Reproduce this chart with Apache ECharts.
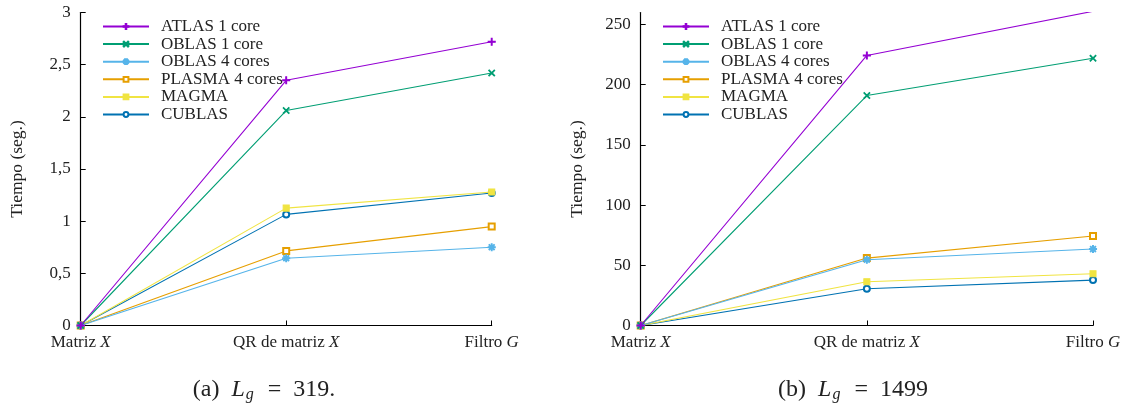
<!DOCTYPE html>
<html><head><meta charset="utf-8">
<script src="https://cdn.jsdelivr.net/npm/echarts@6/dist/echarts.min.js"></script>
<style>html,body{margin:0;padding:0;background:#fff}#c{width:1131px;height:409px}</style>
</head><body><div id="c"></div>
<script>
const categories = ['Matriz X', 'QR de matriz X', 'Filtro G'];
const seriesNames = ['ATLAS 1 core', 'OBLAS 1 core', 'OBLAS 4 cores', 'PLASMA 4 cores', 'MAGMA', 'CUBLAS'];
// Left chart (a) L_g = 319
const atlasA = [0, 2.35, 2.72];
const oblas1A = [0, 2.06, 2.42];
const oblas4A = [0, 0.645, 0.75];
const plasmaA = [0, 0.715, 0.948];
const magmaA = [0, 1.125, 1.28];
const cublasA = [0, 1.065, 1.27];
// Right chart (b) L_g = 1499
const atlasB = [0, 224.3, 261];
const oblas1B = [0, 191, 222];
const oblas4B = [0, 54.6, 63.5];
const plasmaB = [0, 56, 74.3];
const magmaB = [0, 36.4, 43];
const cublasB = [0, 30.5, 37.7];
const yTicksA = [0, 0.5, 1, 1.5, 2, 2.5, 3];
const yTicksB = [0, 50, 100, 150, 200, 250];

const FONT = 'Liberation Serif';
const FS = 17;
const colors = ['#9400d3', '#009e73', '#56b4e9', '#e69f00', '#f0e442', '#0072b2'];
const PLUS = 'path://M4.4,0H5.6V4.4H10V5.6H5.6V10H4.4V5.6H0V4.4H4.4Z';
const CROSS = 'path://M0.8,0L5,4.2L9.2,0L10,0.8L5.8,5L10,9.2L9.2,10L5,5.8L0.8,10L0,9.2L4.2,5L0,0.8Z';
const STAR = 'path://M4.4,0H5.6V10H4.4Z M0,4.4H10V5.6H0Z M1,1.8L1.8,1L9,8.2L8.2,9Z M8.2,1L9,1.8L1.8,9L1,8.2Z';
const symbols = [PLUS, CROSS, STAR, 'emptyRect', 'rect', 'emptyCircle'];
const symSizes = [7, 6, 7, 6, 6, 6];

function mkSeries(arrs, gi) {
  return arrs.map((d, i) => ({
    name: seriesNames[i], type: 'line', data: d,
    xAxisIndex: gi, yAxisIndex: gi,
    symbol: symbols[i], symbolSize: symSizes[i], showAllSymbol: true,
    lineStyle: {color: colors[i], width: 1.1},
    itemStyle: {color: colors[i], borderColor: colors[i], borderWidth: 1.1},
    emphasis: {disabled: true}, animation: false, z: 10 - i, clip: true
  }));
}
function xAxis(gi) {
  return {
    type: 'category', gridIndex: gi, data: categories, boundaryGap: false,
    axisLine: {lineStyle: {color: '#000', width: 1.2}},
    axisTick: {inside: true, length: 5, lineStyle: {color: '#000'}},
    axisLabel: {
      color: '#222', fontFamily: FONT, fontSize: FS, margin: 9,
      formatter: v => v.replace(/ (\S)$/, ' {i|$1}'),
      rich: {i: {fontStyle: 'italic', fontFamily: FONT, fontSize: FS, color: '#222'}}
    },
    splitLine: {show: false}
  };
}
function yAxis(gi, max, interval, ticks, fmt) {
  return {
    type: 'value', gridIndex: gi, min: 0, max: max, interval: interval,
    name: 'Tiempo (seg.)', nameLocation: 'middle', nameGap: 54, nameRotate: 90,
    nameTextStyle: {fontFamily: FONT, fontSize: 17.5, color: '#222'},
    axisLine: {show: true, lineStyle: {color: '#000', width: 1.2}},
    axisTick: {show: true, inside: true, length: 5, customValues: ticks, lineStyle: {color: '#000'}},
    axisLabel: {customValues: ticks, color: '#222', fontFamily: FONT, fontSize: FS, margin: 10, formatter: fmt},
    splitLine: {show: false}
  };
}
function legend(left) {
  return {
    left: left, top: 13, orient: 'vertical', itemWidth: 46, itemHeight: 6, itemGap: 0.6,
    data: seriesNames, selectedMode: false,
    textStyle: {fontFamily: FONT, fontSize: FS, color: '#222', padding: [0, 0, 0, 7]}
  };
}
const capStyle = {fontFamily: FONT, fontSize: 24, fontWeight: 'normal', color: '#222', lineHeight: 26,
  rich: {i: {fontFamily: FONT, fontSize: 24, fontStyle: 'italic', color: '#222', lineHeight: 26},
         s: {fontFamily: FONT, fontSize: 16, fontStyle: 'italic', color: '#222', verticalAlign: 'bottom', lineHeight: 26, padding: [10, 2, 0, 1]}}};
const chart = echarts.init(document.getElementById('c'), null, {renderer: 'canvas'});
chart.setOption({
  animation: false,
  grid: [
    {left: 80.7, right: 1131 - 491.7, top: 12.5, bottom: 409 - 325.5},
    {left: 640.7, right: 1131 - 1093, top: 12.5, bottom: 409 - 325.5}
  ],
  xAxis: [xAxis(0), xAxis(1)],
  yAxis: [
    yAxis(0, 3, 0.5, yTicksA, v => String(v).replace('.', ',')),
    yAxis(1, 260, 50, yTicksB, v => String(v))
  ],
  legend: [legend(97), legend(657)],
  title: [
    {text: '(a)  {i|L}{s|g}  =  319.', left: 264, top: 377, padding: 0, textAlign: 'center', textStyle: capStyle},
    {text: '(b)  {i|L}{s|g}  =  1499', left: 853, top: 377, padding: 0, textAlign: 'center', textStyle: capStyle}
  ],
  series: mkSeries([atlasA, oblas1A, oblas4A, plasmaA, magmaA, cublasA], 0)
    .concat(mkSeries([atlasB, oblas1B, oblas4B, plasmaB, magmaB, cublasB], 1))
});
</script></body></html>
